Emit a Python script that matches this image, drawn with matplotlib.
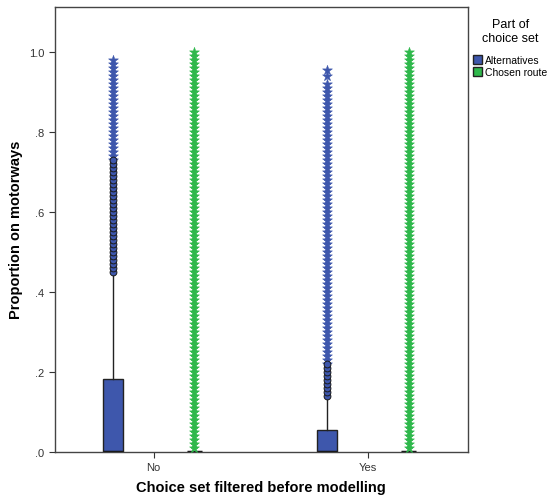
"""
Boxplot: proportion of route length on motorways, split by whether the
choice set was filtered before modelling (SPSS-style output).
"""
import numpy as np
import matplotlib.pyplot as plt
from matplotlib.patches import Patch

# Categories and groups
categories = ["No", "Yes"]
parts = ["Alternatives", "Chosen route"]
colors = {"Alternatives": "#3E57AC", "Chosen route": "#2EB84B"}

# Box summaries (per category, per part)
q1 = {"Alternatives": [0.0, 0.0], "Chosen route": [0.0, 0.0]}
median = {"Alternatives": [0.0, 0.0], "Chosen route": [0.0, 0.0]}
q3 = {"Alternatives": [0.182, 0.055], "Chosen route": [0.0, 0.0]}
whisk_hi = {"Alternatives": [0.452, 0.14], "Chosen route": [0.0, 0.0]}

# Outliers (circles) in hundredths
no_alt_circles = [45, 46, 47, 48, 49, 50, 51, 52, 53, 54, 55, 56, 57, 58, 59,
                  60, 61, 62, 63, 64, 65, 66, 67, 68, 69, 70, 71, 72, 73]
yes_alt_circles = [14, 15, 16, 17, 18, 19, 20, 21, 22]

# Extremes (stars) in hundredths
no_alt_stars = [73, 74, 75, 76, 77, 78, 79, 80, 81, 82, 83, 84, 85, 86, 87,
                88, 89, 90, 91, 92, 93, 94, 95, 96, 97, 98]
yes_alt_stars = [22, 23, 24, 25, 26, 27, 28, 29, 30, 31, 32, 33, 34, 35, 36,
                 37, 38, 39, 40, 41, 42, 43, 44, 45, 46, 47, 48, 49, 50, 51,
                 52, 53, 54, 55, 56, 57, 58, 59, 60, 61, 62, 63, 64, 65, 66,
                 67, 68, 69, 70, 71, 72, 73, 74, 75, 76, 77, 78, 79, 80, 81,
                 82, 83, 84, 85, 86, 87, 88, 89, 90, 91, 92, 94, 95.5]
chosen_stars = [1, 2, 3, 4, 5, 6, 7, 8, 9, 10, 11, 12, 13, 14, 15, 16, 17,
                18, 19, 20, 21, 22, 23, 24, 25, 26, 27, 28, 29, 30, 31, 32,
                33, 34, 35, 36, 37, 38, 39, 40, 41, 42, 43, 44, 45, 46, 47,
                48, 49, 50, 51, 52, 53, 54, 55, 56, 57, 58, 59, 60, 61, 62,
                63, 64, 65, 66, 67, 68, 69, 70, 71, 72, 73, 74, 75, 76, 77,
                78, 79, 80, 81, 82, 83, 84, 85, 86, 87, 88, 89, 90, 91, 92,
                93, 94, 95, 96, 97, 98, 99, 100]

circles = {("No", "Alternatives"): no_alt_circles,
           ("Yes", "Alternatives"): yes_alt_circles}
stars = {("No", "Alternatives"): no_alt_stars,
         ("Yes", "Alternatives"): yes_alt_stars,
         ("No", "Chosen route"): chosen_stars,
         ("Yes", "Chosen route"): chosen_stars}

plt.rcParams["font.family"] = ["Liberation Sans", "DejaVu Sans"]

fig = plt.figure(figsize=(5.5, 5.02), dpi=100)
ax = fig.add_axes([0.1, 0.0976, 0.751, 0.8864])

offsets = {"Alternatives": -0.19, "Chosen route": 0.19}
box_w = {"Alternatives": 0.093, "Chosen route": 0.07}

for part in parts:
    stats = []
    pos = []
    for i, cat in enumerate(categories):
        stats.append({"med": median[part][i], "q1": q1[part][i], "q3": q3[part][i],
                      "whislo": q1[part][i], "whishi": whisk_hi[part][i],
                      "fliers": []})
        pos.append(i + offsets[part])
    ax.bxp(stats, positions=pos, widths=box_w[part], patch_artist=True,
           showcaps=False, showfliers=False,
           boxprops=dict(facecolor=colors[part], edgecolor="#222222", linewidth=1),
           medianprops=dict(color="#111111", linewidth=2.5),
           whiskerprops=dict(color="#222222", linewidth=1))

# extremes first so the circles sit on top where they meet
for (cat, part), vals in stars.items():
    x = categories.index(cat) + offsets[part]
    y = np.array(vals) / 100
    ax.scatter(np.full(len(y), x), y, s=55, marker="*", color=colors[part],
               linewidth=0.4, zorder=3)

for (cat, part), vals in circles.items():
    x = categories.index(cat) + offsets[part]
    y = np.array(vals) / 100
    ax.scatter(np.full(len(y), x), y, s=24, marker="o", facecolor=colors[part],
               edgecolor="#1a1a1a", linewidth=0.7, zorder=4)

ax.set_xlim(-0.46, 1.467)
ax.set_ylim(0, 1.1125)
ax.set_xticks([0, 1])
ax.set_xticklabels(categories, fontsize=8)
yt = [0, 0.2, 0.4, 0.6, 0.8, 1.0]
ax.set_yticks(yt)
ax.set_yticklabels([f"{v:.1f}".lstrip("0") if v < 1 else "1.0" for v in yt], fontsize=8)
ax.tick_params(length=4, color="#333333", labelcolor="#333333", width=0.8)

for sp in ax.spines.values():
    sp.set_color("#444444")
    sp.set_linewidth(1)

fig.text(0.475, 1 - 488 / 502, "Choice set filtered before modelling", fontsize=10.5,
         fontweight="bold", ha="center", va="center")
fig.text(16 / 550, 1 - 230 / 502, "Proportion on motorways", fontsize=10.5,
         fontweight="bold", rotation=90, ha="center", va="center")

handles = [Patch(facecolor=colors[p], edgecolor="#222222", label=p) for p in parts]
leg = fig.legend(handles=handles, title="Part of\nchoice set", loc="upper left",
                 bbox_to_anchor=(0.852, 0.97), frameon=False, fontsize=7.5,
                 title_fontsize=9, handlelength=0.9, handleheight=0.9,
                 handletextpad=0.3, borderpad=0.2, labelspacing=0.2,
                 borderaxespad=0.2)
leg.get_title().set_multialignment("center")
leg._legend_box.sep = 8

fig.savefig("out.png", dpi=100)
